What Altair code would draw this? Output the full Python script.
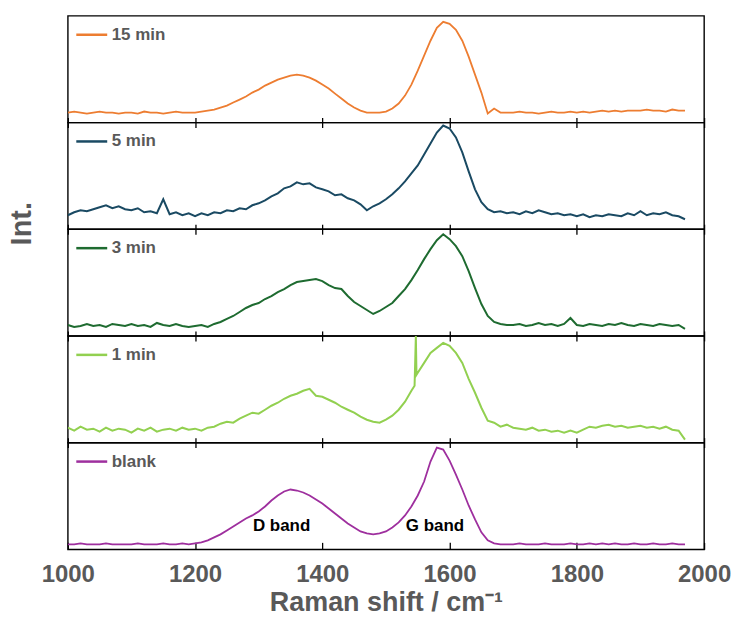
import altair as alt
import pandas as pd

# Raman shift grid (cm-1) and intensities (arbitrary units, read per panel)
wavenumber = list(range(1000, 1971, 10))

int_15min = [10, 11, 10, 9, 10, 11, 10, 10, 9, 10,
             10, 9, 11, 10, 10, 9, 10, 11, 10, 10,
             10, 11, 12, 13, 15, 17, 20, 23, 26, 30,
             33, 37, 40, 43, 45, 47, 48, 47, 45, 42,
             38, 34, 29, 24, 19, 15, 12, 10, 10, 10,
             11, 14, 19, 27, 38, 52, 67, 82, 95, 101,
             99, 93, 82, 66, 48, 30, 9, 14, 10, 10,
             10, 11, 10, 10, 9, 10, 11, 10, 10, 11,
             10, 11, 10, 11, 12, 11, 12, 11, 12, 12,
             12, 13, 12, 12, 11, 13, 12, 12]

int_5min = [14, 17, 19, 18, 20, 22, 24, 21, 23, 20,
            19, 21, 17, 18, 16, 30, 15, 17, 14, 16,
            13, 16, 14, 17, 16, 19, 18, 21, 20, 24,
            26, 29, 33, 36, 41, 43, 47, 45, 46, 42,
            40, 38, 34, 35, 31, 29, 25, 19, 23, 26,
            30, 35, 41, 48, 56, 64, 75, 86, 97, 104,
            101, 92, 77, 58, 40, 27, 20, 17, 18, 16,
            17, 15, 18, 16, 19, 17, 15, 16, 14, 15,
            13, 15, 12, 14, 13, 15, 14, 13, 16, 14,
            18, 14, 16, 15, 17, 14, 13, 10]

int_3min = [11, 9, 10, 12, 10, 11, 9, 12, 11, 10,
            12, 10, 11, 9, 13, 11, 10, 12, 10, 9,
            10, 11, 9, 12, 14, 17, 20, 24, 28, 31,
            33, 37, 40, 44, 47, 51, 54, 55, 56, 57,
            55, 51, 48, 47, 40, 34, 30, 26, 22, 25,
            29, 33, 40, 47, 56, 66, 77, 87, 96, 102,
            97, 90, 80, 65, 48, 32, 20, 14, 12, 11,
            11, 12, 10, 11, 13, 11, 12, 10, 12, 18,
            11, 10, 12, 11, 10, 12, 11, 13, 11, 10,
            12, 11, 10, 12, 11, 10, 11, 7]

int_1min = [15, 12, 16, 13, 14, 11, 15, 12, 14, 13,
            10, 14, 12, 15, 11, 13, 14, 12, 15, 13,
            14, 12, 15, 16, 19, 21, 20, 24, 27, 30,
            29, 33, 37, 40, 44, 47, 49, 52, 54, 47,
            46, 43, 40, 36, 33, 30, 26, 23, 21, 20,
            23, 27, 33, 41, 52, 70, 80, 90, 95, 100,
            97, 90, 80, 64, 50, 35, 22, 20, 16, 18,
            15, 14, 13, 15, 12, 13, 11, 12, 10, 12,
            10, 13, 16, 15, 17, 18, 16, 17, 15, 16,
            17, 15, 16, 14, 16, 13, 12, 3]
# narrow spike in the 1 min spectrum
spike_1min_x = [1545, 1547, 1548]
spike_1min_y = [57, 107, 68]

int_blank = [5, 5, 6, 5, 5, 5, 6, 5, 5, 5,
             5, 6, 5, 5, 5, 6, 5, 5, 6, 5,
             6, 7, 9, 12, 15, 19, 23, 27, 31, 34,
             38, 43, 49, 54, 58, 60, 59, 57, 54, 50,
             46, 41, 36, 31, 26, 22, 18, 16, 15, 16,
             18, 22, 27, 34, 43, 54, 68, 88, 102, 100,
             89, 75, 60, 44, 30, 17, 9, 6, 5, 5,
             5, 6, 5, 5, 5, 6, 5, 5, 5, 6,
             5, 5, 6, 5, 6, 5, 6, 5, 5, 6,
             5, 5, 6, 5, 5, 6, 5, 5]

series_labels = ["15 min", "5 min", "3 min", "1 min", "blank"]
series_colors = ["#ED7D31", "#1A4A63", "#1E6B30", "#92D050", "#9E2F9E"]

ann_x = [1336, 1577]
ann_y = [23, 23]
ann_text = ["D band", "G band"]

tick_values = [1000, 1200, 1400, 1600, 1800, 2000]

FONT = "Liberation Sans, Arial"
GRAY = "#595959"
W, H = 638, 107


def make_panel(idx, xs, ys, last=False, sw=2.0):
    label = series_labels[idx]
    color = series_colors[idx]
    df = pd.DataFrame({"x": xs, "y": ys, "s": [label] * len(xs)})
    if last:
        x_axis = alt.Axis(values=tick_values, format="d", offset=-7, tickSize=7,
                          tickWidth=1.3, tickColor="black", domain=False, grid=False,
                          labelFont=FONT, labelFontSize=24, labelFontWeight="bold",
                          labelColor=GRAY, labelPadding=13, labelFlush=False,
                          labelOverlap=False,
                          title="Raman shift / cm\u207b\u00b9", titleFont=FONT,
                          titleFontSize=27, titleFontWeight="bold", titleColor=GRAY,
                          titlePadding=3)
    else:
        x_axis = alt.Axis(values=tick_values, offset=-5, tickSize=10, tickWidth=1.3,
                          tickColor="black", domain=False, grid=False,
                          labels=False, title=None)
    if idx == 2:
        y_axis = alt.Axis(title="Int.", labels=False, ticks=False, domain=False,
                          grid=False, titleX=-46, titleY=-6, titleAngle=270,
                          titleBaseline="middle", titleAlign="center",
                          titleFont=FONT, titleFontSize=29, titleFontWeight="bold",
                          titleColor=GRAY)
    else:
        y_axis = None
    line = alt.Chart(df).mark_line(strokeWidth=sw, clip=True).encode(
        x=alt.X("x:Q", scale=alt.Scale(domain=[1000, 2000], nice=False, zero=False),
                axis=x_axis),
        y=alt.Y("y:Q", scale=alt.Scale(domain=[0, 107], nice=False, zero=False),
                axis=y_axis),
        color=alt.Color("s:N", scale=alt.Scale(domain=[label], range=[color]),
                        legend=alt.Legend(title=None, orient="none", legendX=7,
                                          legendY=2, symbolType="stroke",
                                          symbolSize=961, symbolStrokeWidth=2.5,
                                          labelFont=FONT, labelFontSize=17,
                                          labelFontWeight="bold", labelColor=GRAY,
                                          labelOffset=3, padding=0)),
    )
    return line


panels = [
    make_panel(0, wavenumber, int_15min, sw=1.8),
    make_panel(1, wavenumber, int_5min),
    make_panel(2, wavenumber, int_3min),
    make_panel(3, wavenumber + spike_1min_x, int_1min + spike_1min_y),
]

blank_line = make_panel(4, wavenumber, int_blank, last=True, sw=1.8)
ann_df = pd.DataFrame({"x": ann_x, "y": ann_y, "t": ann_text})
ann = alt.Chart(ann_df).mark_text(font=FONT, fontSize=17, fontWeight="bold",
                                  color="black").encode(
    x=alt.X("x:Q"), y=alt.Y("y:Q"), text="t:N")
panels.append(alt.layer(blank_line, ann))

panels = [p.properties(width=W, height=H) for p in panels]

chart = alt.vconcat(*panels, spacing=0, bounds="flush").resolve_scale(
    color="independent", y="independent"
).properties(
    padding={"left": 7, "top": 14, "right": 0, "bottom": 0},
    background="white",
).configure_view(stroke="black", strokeWidth=1.4)

chart.save("out.html", embed_options={"renderer": "svg", "actions": False})
